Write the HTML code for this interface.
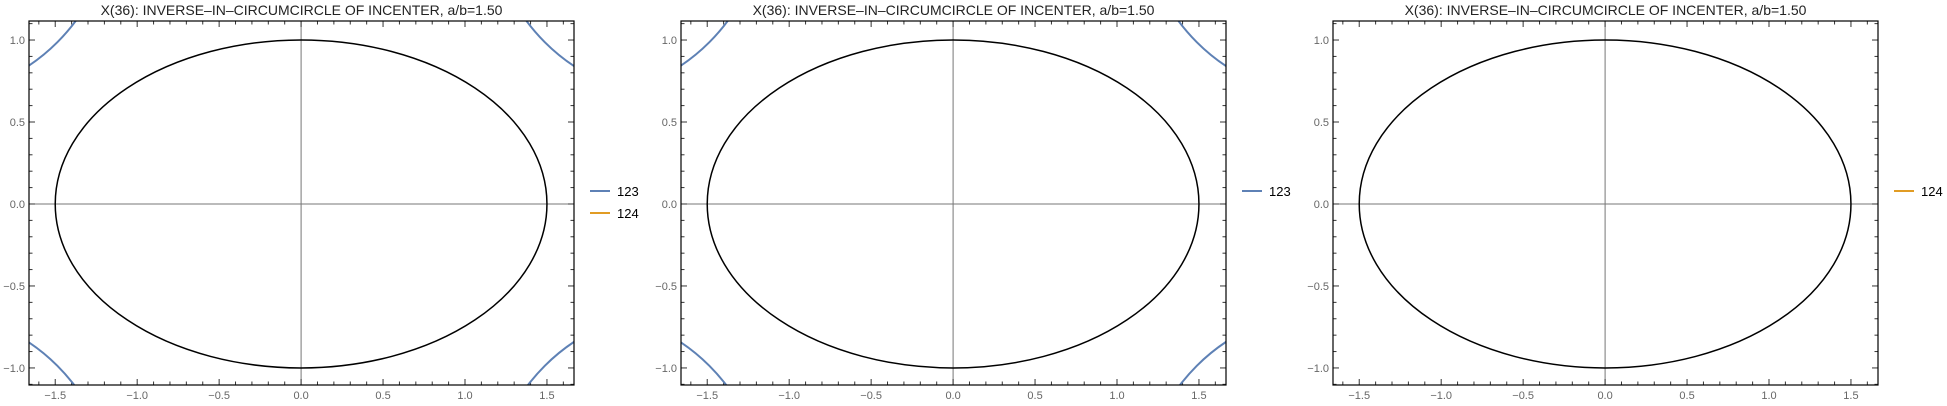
<!DOCTYPE html>
<html><head><meta charset="utf-8"><style>
html,body{margin:0;padding:0;background:#fff;width:1947px;height:406px;overflow:hidden}
svg{display:block}
text{font-family:"Liberation Sans",sans-serif}
</style></head><body>
<svg id="chart" width="1947" height="406" viewBox="0 0 1947 406"></svg>
<script>
const panelLefts = [29, 681, 1333];
const panelTitles = ["X(36): INVERSE\u2013IN\u2013CIRCUMCIRCLE OF INCENTER, a/b=1.50","X(36): INVERSE\u2013IN\u2013CIRCUMCIRCLE OF INCENTER, a/b=1.50","X(36): INVERSE\u2013IN\u2013CIRCUMCIRCLE OF INCENTER, a/b=1.50"];
const panelLegends = [["123","124"],["123"],["124"]];
const panelShowBlue = [true, true, false];
const xTicks = [-1.5,-1.0,-0.5,0.0,0.5,1.0,1.5];
const yTicks = [-1.0,-0.5,0.0,0.5,1.0];
const ellipseA = [1.5];
const ellipseB = [1.0];
const arcCenterX = [-2.3, 2.3, -2.3, 2.3];
const arcCenterY = [1.8, 1.8, -1.8, -1.8];
const arcRadius = [1.15, 1.15, 1.15, 1.15];
const seriesColors = {"123":"#5e81b5","124":"#e19c24"};

const NS="http://www.w3.org/2000/svg";
const svg=document.getElementById('chart');
const W=545, TOP=21, BOT=385, XMIN=-1.66, XMAX=1.665, YMIN=-1.104, YMAX=1.116;
function mk(tag,attrs,parent){const e=document.createElementNS(NS,tag);for(const k in attrs)e.setAttribute(k,attrs[k]);(parent||svg).appendChild(e);return e;}

panelLefts.forEach((L,pi)=>{
  const R=L+W;
  const sx=v=>L+(v-XMIN)/(XMAX-XMIN)*W;
  const sy=v=>BOT-(v-YMIN)/(YMAX-YMIN)*(BOT-TOP);
  const g=mk('g',{});
  
  
  const cp=mk('clipPath',{id:'cp'+pi},g);
  mk('rect',{x:L,y:TOP,width:W,height:BOT-TOP},cp);
  const t=mk('text',{x:(L+R)/2,y:15,'text-anchor':'middle','font-size':'14',fill:'#222'},g);
  t.textContent=panelTitles[pi];
  
  
  const ax=mk('line',{x1:L,x2:R,y1:sy(0),y2:sy(0),stroke:'#777','stroke-width':1},g);
  
  
  const ay=mk('line',{x1:sx(0),x2:sx(0),y1:TOP,y2:BOT,stroke:'#777','stroke-width':1},g);
  
  
  for(let i=-16;i<=16;i++){const v=i/10,x=sx(v);const len=(i%5===0)?6:3.5;
    mk('line',{x1:x,x2:x,y1:BOT,y2:BOT-len,stroke:'#333'},g);
    mk('line',{x1:x,x2:x,y1:TOP,y2:TOP+len,stroke:'#333'},g);}
  for(let i=-11;i<=11;i++){const v=i/10,y=sy(v);const len=(i%5===0)?6:3.5;
    mk('line',{x1:L,x2:L+len,y1:y,y2:y,stroke:'#333'},g);
    mk('line',{x1:R,x2:R-len,y1:y,y2:y,stroke:'#333'},g);}
  xTicks.forEach(v=>{const tx=mk('text',{x:sx(v),y:BOT+14,'text-anchor':'middle','font-size':'11',fill:'#666'},g);
    tx.textContent=(v<0?'\u2212':'')+Math.abs(v).toFixed(1);
    
    });
  yTicks.forEach(v=>{const tx=mk('text',{x:L-4,y:sy(v)+4,'text-anchor':'end','font-size':'11',fill:'#666'},g);
    tx.textContent=(v<0?'\u2212':'')+Math.abs(v).toFixed(1);
    
    });
  const el=mk('ellipse',{cx:sx(0),cy:sy(0),rx:sx(ellipseA[0])-sx(0),ry:sy(0)-sy(ellipseB[0]),fill:'none',stroke:'#000','stroke-width':1.5},g);
  
  
  if(panelShowBlue[pi]){
    arcCenterX.forEach((cx,k)=>{
      const c=mk('ellipse',{cx:sx(cx),cy:sy(arcCenterY[k]),rx:sx(arcRadius[k])-sx(0),ry:sy(0)-sy(arcRadius[k]),fill:'none',stroke:seriesColors["123"],'stroke-width':2,'clip-path':'url(#cp'+pi+')'},g);
      
      
    });
  }
  mk('rect',{x:L,y:TOP,width:W,height:BOT-TOP,fill:'none',stroke:'#000','stroke-width':1.2},g);
  panelLegends[pi].forEach((s,k)=>{
    const y=191+k*22;
    const lg=mk('g',{},g);
    
    
    mk('line',{x1:R+16,x2:R+36,y1:y,y2:y,stroke:seriesColors[s],'stroke-width':2},lg);
    const lt=mk('text',{x:R+43,y:y+5,'font-size':'13',fill:'#000'},lg);
    lt.textContent=s;
  });
});
</script>
</body></html>
